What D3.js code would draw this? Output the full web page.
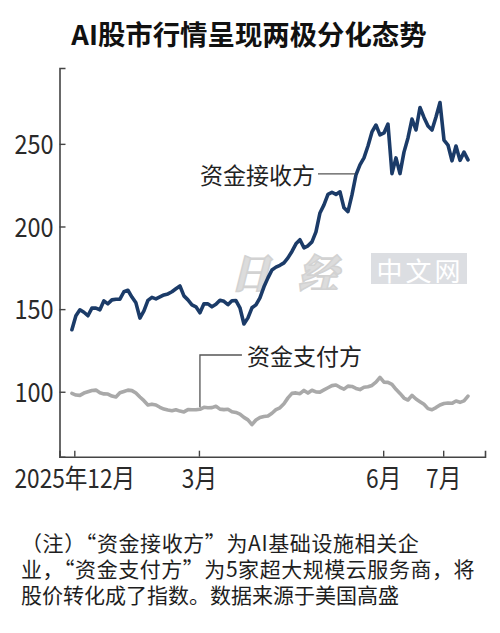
<!DOCTYPE html>
<html>
<head>
<meta charset="utf-8">
<script src="https://cdn.jsdelivr.net/npm/d3@7"></script>
<style>
  html, body { margin: 0; padding: 0; background: #fff; }
  svg { display: block; }
</style>
</head>
<body>
<svg id="chart" width="500" height="633"></svg>
<script>
// ---- data (index = trading-day sample, left to right) ----
const receiverValues = [
  137.5, 146.0, 149.6, 148.1, 146.0, 150.6, 150.6, 149.6, 155.0, 153.2,
  155.6, 156.0, 156.0, 160.5, 161.4, 157.3, 153.8, 144.6, 149.0, 155.3,
  157.1, 156.2, 157.4, 158.6, 159.2, 160.5, 162.3, 164.0, 158.0, 155.6,
  152.6, 151.4, 147.8, 153.2, 153.2, 151.4, 152.9, 155.4, 154.7, 152.7,
  155.1, 155.2, 150.8, 141.0, 144.7, 150.8, 152.6, 156.8, 163.5, 168.9,
  173.7, 175.4, 176.5, 178.0, 181.0, 184.9, 189.5, 192.0, 187.1, 188.3,
  190.7, 196.7, 208.2, 213.1, 219.4, 220.7, 219.4, 221.0, 211.3, 209.0,
  219.1, 231.2, 237.3, 241.5, 248.7, 257.2, 261.4, 255.4, 256.6, 262.0,
  232.0, 241.5, 232.0, 245.0, 253.6, 265.0, 258.4, 272.0, 266.0, 260.8,
  258.4, 266.2, 275.0, 252.3, 249.3, 239.7, 248.7, 240.0, 245.0, 240.3
];
const payerValues = [
  99.0, 98.0, 97.8, 99.2, 100.0, 100.8, 101.0, 99.4, 98.7, 98.6,
  97.4, 96.8, 99.4, 100.2, 101.0, 100.7, 99.2, 96.8, 94.6, 92.0,
  92.5, 92.0, 90.6, 89.5, 88.9, 88.5, 89.1, 88.3, 87.8, 89.2,
  89.1, 89.1, 89.4, 90.6, 90.3, 90.4, 91.2, 89.5, 89.2, 89.4,
  87.9, 87.5, 86.5, 84.5, 83.0, 80.1, 82.9, 84.4, 85.0, 85.3,
  87.0, 89.2, 90.3, 92.8, 96.3, 99.0, 99.3, 98.8, 100.8, 99.2,
  100.9, 99.9, 99.8, 101.1, 102.4, 103.7, 104.1, 102.7, 101.6, 103.4,
  103.2, 102.0, 101.3, 102.7, 103.0, 103.8, 105.8, 108.7, 105.8, 105.7,
  104.5, 101.5, 99.0, 96.2, 95.0, 97.8, 95.6, 94.0, 92.4, 89.8,
  89.1, 90.4, 92.0, 92.9, 93.2, 93.0, 94.4, 93.6, 94.5, 97.4
];
const xTickPositions = [0.6, 31.75, 77.8, 92.8];
const xTickLabels = ["2025年12月", "3月", "6月", "7月"];
const yTickValues = [100, 150, 200, 250];
const seriesNames = ["资金接收方", "资金支付方"];
const titleText = "AI股市行情呈现两极分化态势";
const noteLines = [
  "（注）“资金接收方”为AI基础设施相关企",
  "业，“资金支付方”为5家超大规模云服务商，将",
  "股价转化成了指数。数据来源于美国高盛"
];

// ---- layout ----
const svg = d3.select("#chart");
const CJK = "'Noto Sans CJK SC', 'Noto Sans', sans-serif";
const CONDENSE = 0.87;

const x = d3.scaleLinear().domain([-3.1, 103.25]).range([59.5, 485]);
const y = d3.scaleLinear().domain([60.7, 295.9]).range([456.7, 68]);

svg.append("rect").attr("width", 500).attr("height", 633).attr("fill", "#fff");

// title
svg.append("text")
  .attr("x", 249).attr("y", 33)
  .attr("text-anchor", "middle").attr("dominant-baseline", "central")
  .attr("font-family", CJK).attr("font-weight", 700).attr("font-size", 27.4)
  .attr("fill", "#111")
  .text(titleText);

// watermark (behind lines)
const wm = svg.append("g");
wm.append("text")
  .attr("x", 298).attr("y", 270)
  .attr("text-anchor", "middle").attr("dominant-baseline", "central")
  .attr("font-family", "'Noto Serif CJK SC', 'Noto Sans CJK SC', serif")
  .attr("font-weight", 900).attr("font-size", 40).attr("font-style", "italic")
  .attr("fill", "#dcdcdc").attr("stroke", "#d2d2d2").attr("stroke-width", 1.5)
  .attr("letter-spacing", 28)
  .text("日经");
wm.append("rect")
  .attr("x", 371).attr("y", 253).attr("width", 96).attr("height", 31)
  .attr("fill", "#dcdee2");
wm.append("text")
  .attr("x", 420).attr("y", 269)
  .attr("text-anchor", "middle").attr("dominant-baseline", "central")
  .attr("font-family", CJK).attr("font-size", 26).attr("fill", "#fff")
  .attr("letter-spacing", 3)
  .text("中文网");

function condense(sel) {
  sel.each(function () {
    const w = this.getComputedTextLength();
    d3.select(this).attr("textLength", w * CONDENSE).attr("lengthAdjust", "spacingAndGlyphs");
  });
}

// axes
const yAxis = d3.axisRight(y).tickValues(yTickValues).tickSize(6).tickFormat(d3.format("d"));
const yG = svg.append("g").attr("transform", `translate(${x.range()[0]},0)`).call(yAxis);
yG.select(".domain").attr("stroke", "#444").attr("stroke-width", 1.6);
yG.selectAll(".tick line").attr("stroke", "#444").attr("stroke-width", 1.4);
yG.selectAll(".tick text")
  .attr("x", -6).attr("dy", "0.36em").attr("text-anchor", "end")
  .attr("font-family", CJK).attr("font-size", 27).attr("fill", "#2a2a2a")
  .call(condense);

const xAxis = d3.axisTop(x).tickValues(xTickPositions).tickSize(6)
  .tickFormat((d, i) => xTickLabels[i]);
const xG = svg.append("g").attr("transform", `translate(0,${y.range()[0]})`).call(xAxis);
xG.select(".domain").attr("stroke", "#444").attr("stroke-width", 1.6);
xG.selectAll(".tick line").attr("stroke", "#444").attr("stroke-width", 1.4);
xG.selectAll(".tick text")
  .attr("y", 22).attr("dy", "0.36em").attr("text-anchor", "middle")
  .attr("font-family", CJK).attr("font-size", 26).attr("fill", "#2a2a2a")
  .call(condense);

// lines
const line = d3.line().x((d, i) => x(i)).y(d => y(d)).curve(d3.curveLinear);
svg.append("path").datum(payerValues)
  .attr("d", line).attr("fill", "none")
  .attr("stroke", "#a9a9a9").attr("stroke-width", 3.6)
  .attr("stroke-linejoin", "round").attr("stroke-linecap", "round");
svg.append("path").datum(receiverValues)
  .attr("d", line).attr("fill", "none")
  .attr("stroke", "#1b3b68").attr("stroke-width", 3.6)
  .attr("stroke-linejoin", "round").attr("stroke-linecap", "round");

// series labels with leaders
const recvIdx = 71;
const recvY = y(receiverValues[recvIdx]) - 1;
svg.append("line")
  .attr("x1", 318).attr("x2", x(recvIdx - 0.2))
  .attr("y1", recvY).attr("y2", recvY)
  .attr("stroke", "#555").attr("stroke-width", 1.3);
svg.append("text")
  .attr("x", 315).attr("y", recvY)
  .attr("text-anchor", "end").attr("dominant-baseline", "central")
  .attr("font-family", CJK).attr("font-size", 23).attr("fill", "#222")
  .text(seriesNames[0]);

const payIdx = 32;
const labelY = 355;
svg.append("path")
  .attr("d", `M${x(payIdx)},${y(payerValues[payIdx]) - 2}V${labelY}H${x(payIdx) + 42}`)
  .attr("fill", "none").attr("stroke", "#555").attr("stroke-width", 1.3);
svg.append("text")
  .attr("x", x(payIdx) + 47).attr("y", labelY)
  .attr("text-anchor", "start").attr("dominant-baseline", "central")
  .attr("font-family", CJK).attr("font-size", 23).attr("fill", "#222")
  .text(seriesNames[1]);

// note: widen lines with quotes slightly to mimic full-width quote spacing
const NOTE_SIZE = 21;
svg.append("g").selectAll("text").data(noteLines).join("text")
  .attr("x", 21).attr("y", (d, i) => 542 + i * 26)
  .attr("dominant-baseline", "central")
  .attr("font-family", CJK).attr("font-size", NOTE_SIZE).attr("fill", "#1e1e1e")
  .text(d => d)
  .each(function (d) {
    const q = (d.match(/[“”]/g) || []).length;
    if (q) {
      const w = this.getComputedTextLength();
      d3.select(this).attr("textLength", w + q * 0.27 * NOTE_SIZE).attr("lengthAdjust", "spacing");
    }
  });
</script>
</body>
</html>
